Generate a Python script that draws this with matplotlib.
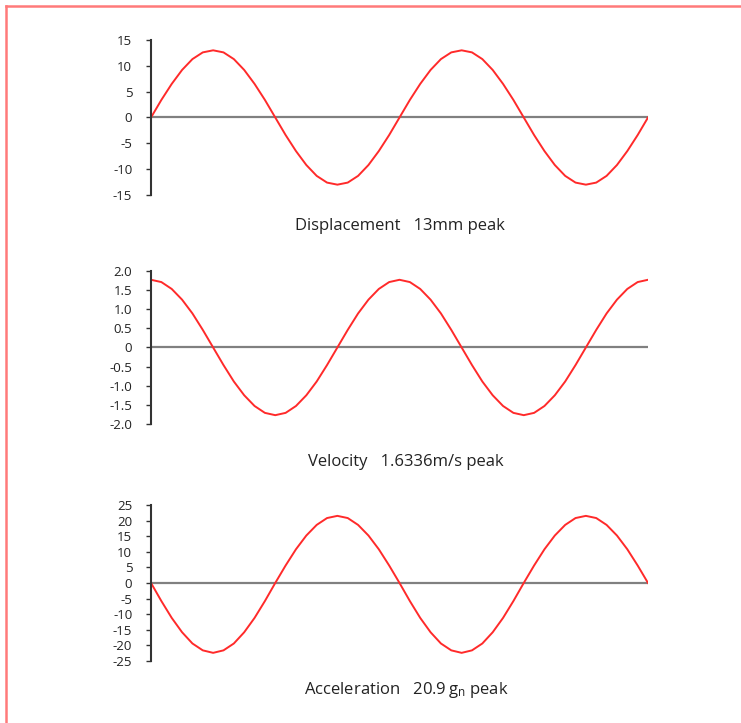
import matplotlib
matplotlib.use("Agg")
import matplotlib.pyplot as plt
from matplotlib.lines import Line2D

plt.rcParams['font.family'] = ['Open Sans', 'DejaVu Sans']
plt.rcParams['axes.unicode_minus'] = False
plt.rcParams['mathtext.fontset'] = 'custom'
plt.rcParams['mathtext.rm'] = 'Open Sans'

# phase in degrees, read every 15 degrees along the curves
phase = list(range(0, 721, 15))

displacement = [0, 3.4, 6.5, 9.2, 11.3, 12.6, 13.0, 12.6, 11.3, 9.2, 6.5, 3.4,
                0, -3.4, -6.5, -9.2, -11.3, -12.6, -13.0, -12.6, -11.3, -9.2, -6.5, -3.4,
                0, 3.4, 6.5, 9.2, 11.3, 12.6, 13.0, 12.6, 11.3, 9.2, 6.5, 3.4,
                0, -3.4, -6.5, -9.2, -11.3, -12.6, -13.0, -12.6, -11.3, -9.2, -6.5, -3.4, 0]

velocity = [1.77, 1.71, 1.53, 1.25, 0.89, 0.46, 0, -0.46, -0.89, -1.25, -1.53, -1.71,
            -1.77, -1.71, -1.53, -1.25, -0.89, -0.46, 0, 0.46, 0.89, 1.25, 1.53, 1.71,
            1.77, 1.71, 1.53, 1.25, 0.89, 0.46, 0, -0.46, -0.89, -1.25, -1.53, -1.71,
            -1.77, -1.71, -1.53, -1.25, -0.89, -0.46, 0, 0.46, 0.89, 1.25, 1.53, 1.71, 1.77]

acceleration = [0, -5.8, -11.2, -15.8, -19.4, -21.6, -22.4, -21.6, -19.4, -15.8, -11.2, -5.8,
                0, 5.6, 10.8, 15.2, 18.6, 20.8, 21.5, 20.8, 18.6, 15.2, 10.8, 5.6,
                0, -5.8, -11.2, -15.8, -19.4, -21.6, -22.4, -21.6, -19.4, -15.8, -11.2, -5.8,
                0, 5.6, 10.8, 15.2, 18.6, 20.8, 21.5, 20.8, 18.6, 15.2, 10.8, 5.6, 0]

disp_ticks = [15, 10, 5, 0, -5, -10, -15]
disp_labels = ['15', '10', '5', '0', '-5', '-10', '-15']
vel_ticks = [2.0, 1.5, 1.0, 0.5, 0, -0.5, -1.0, -1.5, -2.0]
vel_labels = ['2.0', '1.5', '1.0', '0.5', '0', '-0.5', '-1.0', '-1.5', '-2.0']
acc_ticks = [25, 20, 15, 10, 5, 0, -5, -10, -15, -20, -25]
acc_labels = ['25', '20', '15', '10', '5', '0', '-5', '-10', '-15', '-20', '-25']

captions = ['Displacement   13mm peak',
            'Velocity   1.6336m/s peak',
            r'Acceleration   20.9$\mathregular{\,g_n}$ peak']

fig = plt.figure(figsize=(7.41, 7.23), dpi=100)

# pink frame on the left and top edges
fig.add_artist(Line2D([6/741, 6/741], [0, 1 - 6/723], color='#ff7a7a', lw=1.8))
fig.add_artist(Line2D([6/741, 1], [1 - 6/723, 1 - 6/723], color='#ff7a7a', lw=1.8))

panels = [
    (displacement, disp_ticks, disp_labels, 15, [0.2038, 0.7303, 0.6707, 0.2144], (400, 226)),
    (velocity, vel_ticks, vel_labels, 2.0, [0.2038, 0.4136, 0.6707, 0.2116], (406, 462)),
    (acceleration, acc_ticks, acc_labels, 25, [0.2038, 0.0858, 0.6707, 0.2158], (406, 690)),
]

for (vals, ticks, labels, lim, rect, cap_xy), cap in zip(panels, captions):
    ax = fig.add_axes(rect)
    ax.axhline(0, color='#808080', lw=1.6, zorder=1)
    ax.plot(phase, vals, color='#ff2a2a', lw=1.4, zorder=2)
    ax.set_xlim(0, 720)
    ax.set_ylim(-lim, lim)
    for s in ['top', 'right', 'bottom']:
        ax.spines[s].set_visible(False)
    ax.spines['left'].set_color('#333333')
    ax.spines['left'].set_linewidth(1.5)
    ax.set_xticks([])
    ax.set_yticks(ticks)
    ax.set_yticklabels(labels)
    ax.tick_params(axis='y', direction='out', length=3.5, width=1.0,
                   color='#333333', pad=10, labelsize=9.5, labelcolor='#222222')
    fig.text(cap_xy[0]/741, 1 - cap_xy[1]/723, cap, ha='center', va='center',
             fontsize=12, color='#222222')

fig.savefig('out.png', dpi=100, facecolor='white')
